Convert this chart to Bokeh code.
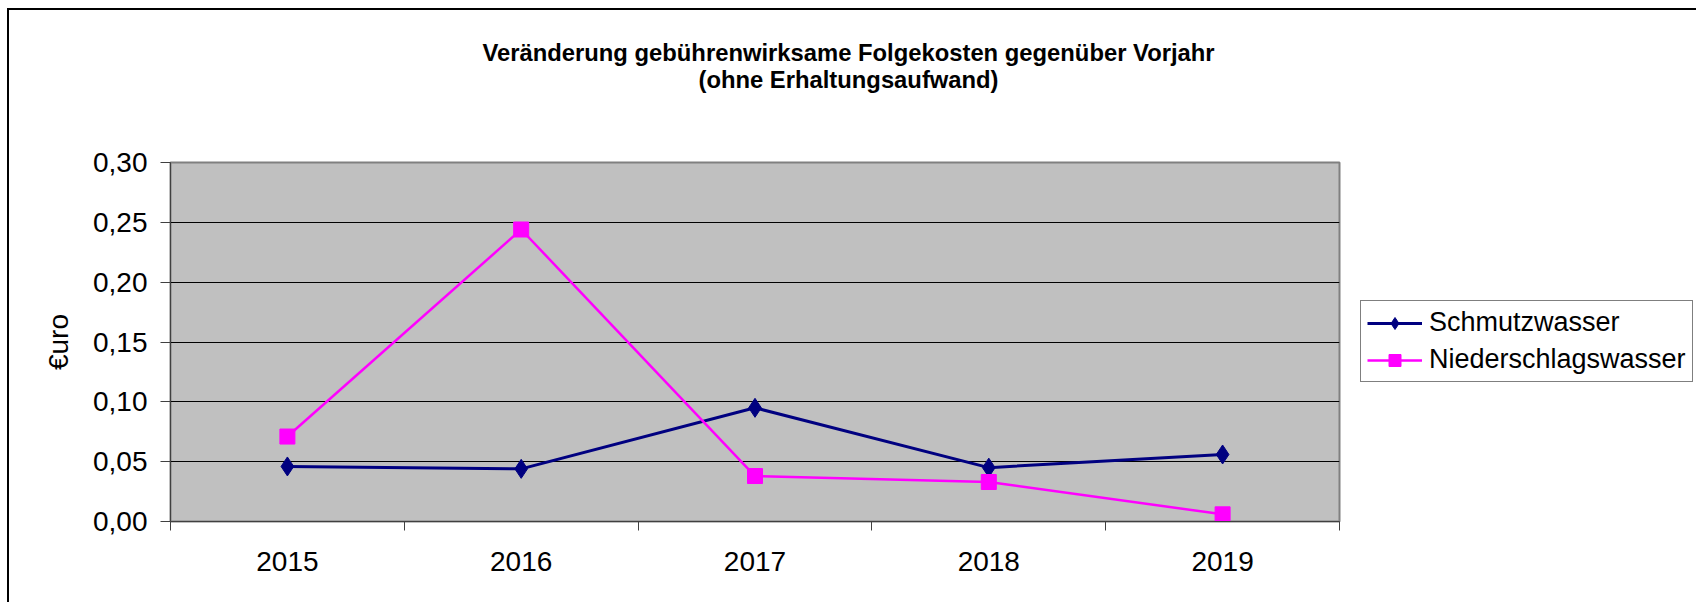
from bokeh.plotting import figure
from bokeh.models import Range1d, FixedTicker, Legend, LegendItem, Label
from bokeh.embed import file_html
from bokeh.resources import INLINE

# ---- data ----
years = ["2015", "2016", "2017", "2018", "2019"]
schmutzwasser = [0.046, 0.044, 0.095, 0.045, 0.056]
niederschlagswasser = [0.071, 0.244, 0.038, 0.033, 0.006]
y_ticks = [0.0, 0.05, 0.10, 0.15, 0.20, 0.25, 0.30]
y_tick_labels = ["0,00", "0,05", "0,10", "0,15", "0,20", "0,25", "0,30"]
title_lines = ["Veränderung gebührenwirksame Folgekosten gegenüber Vorjahr",
               "(ohne Erhaltungsaufwand)"]
y_label = "€uro"
series_names = ["Schmutzwasser", "Niederschlagswasser"]

FONT = "Liberation Sans"
NAVY = "#000080"
MAGENTA = "#FF00FF"
FS = "28px"

x = [i + 0.5 for i in range(len(years))]
boundaries = list(range(len(years) + 1))

p = figure(frame_width=1169, frame_height=359, output_backend="svg", toolbar_location=None,
           x_range=Range1d(0, len(years)), y_range=Range1d(y_ticks[0], y_ticks[-1]),
           min_border_left=161, min_border_right=0, min_border_top=152,
           min_border_bottom=81)
p.styles = {"border-left": "2px solid black", "border-top": "2px solid black",
            "margin-left": "7px", "margin-top": "8px"}

p.background_fill_color = "#C0C0C0"
p.border_fill_color = "white"
p.outline_line_color = "#808080"
p.outline_line_width = 2

# grid
p.xgrid.visible = False
p.ygrid.grid_line_color = "black"
p.ygrid.grid_line_width = 1

# y axis
yax = p.yaxis[0]
yax.ticker = FixedTicker(ticks=y_ticks)
yax.major_label_overrides = {t: l for t, l in zip(y_ticks, y_tick_labels)}
yax.minor_tick_line_color = None
yax.major_tick_out = 10
yax.major_tick_in = 0
yax.major_label_standoff = 13
yax.axis_line_color = "#404040"
yax.major_tick_line_color = "#404040"
yax.major_label_text_font = FONT
yax.major_label_text_font_size = FS
yax.major_label_text_color = "black"
yax.axis_label = y_label
yax.axis_label_text_font = FONT
yax.axis_label_text_font_size = FS
yax.axis_label_text_font_style = "normal"
yax.axis_label_text_color = "black"
yax.axis_label_standoff = 16

# x axis
xax = p.xaxis[0]
xax.ticker = FixedTicker(ticks=x, minor_ticks=boundaries)
xax.major_label_overrides = {xi: yr for xi, yr in zip(x, years)}
xax.major_tick_out = 0
xax.major_tick_in = 0
xax.minor_tick_out = 9
xax.minor_tick_in = 0
xax.minor_tick_line_color = "#404040"
xax.axis_line_color = "#404040"
xax.major_label_standoff = 21
xax.major_label_text_font = FONT
xax.major_label_text_font_size = FS
xax.major_label_text_color = "black"

# series
r1 = p.line(x, schmutzwasser, line_color=NAVY, line_width=3)
r1m = p.scatter(x, schmutzwasser, marker="diamond", size=19,
                fill_color=NAVY, line_color=NAVY)
r2 = p.line(x, niederschlagswasser, line_color=MAGENTA, line_width=2.5)
r2m = p.scatter(x, niederschlagswasser, marker="square", size=15,
                fill_color=MAGENTA, line_color=MAGENTA)

legend = Legend(items=[LegendItem(label=series_names[0], renderers=[r1, r1m]),
                       LegendItem(label=series_names[1], renderers=[r2, r2m])],
                location=(21, 139))
legend.border_line_color = "black"
legend.border_line_width = 1
legend.background_fill_color = "white"
legend.background_fill_alpha = 1
legend.label_text_font = FONT
legend.label_text_font_size = "27px"
legend.label_text_color = "black"
legend.glyph_width = 55
legend.glyph_height = 30
legend.label_height = 30
legend.label_standoff = 7
legend.padding = 6
legend.spacing = 6
legend.margin = 11
p.add_layout(legend, "right")

# title: two centred lines above the plot area
for line, yoff in zip(title_lines, [110, 56]):
    p.add_layout(Label(x=678, y=yoff, x_units="screen", y_units="screen",
                       text=line, text_align="center", text_baseline="alphabetic",
                       text_font=FONT, text_font_style="bold",
                       text_font_size="23.8px", text_color="black"), "above")

open("out.html", "w").write(file_html(p, INLINE))
